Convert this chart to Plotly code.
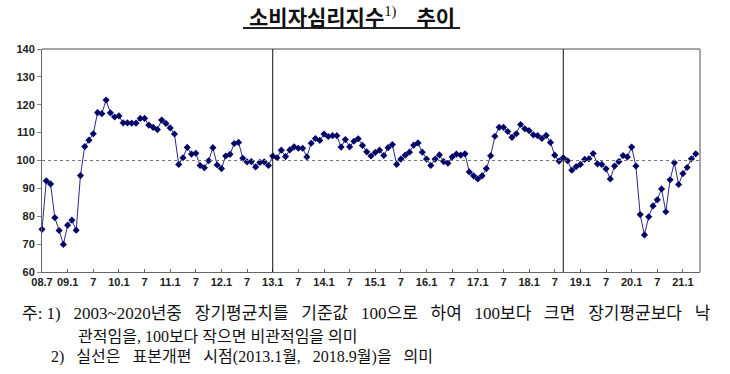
import plotly.graph_objects as go
import pandas as pd

# 소비자심리지수 (CCSI), monthly, 2008.7 ~ 2021.4
start_month = "2008-07"
csi_2008_2012 = [75.3, 92.7, 91.6, 79.5, 74.9, 69.9, 76.8, 78.6, 75.0, 94.6,
                 105.0, 107.3, 109.6, 117.2, 116.8, 121.7, 117.1, 115.6, 116.0, 113.5,
                 113.5, 113.4, 113.4, 115.1, 115.1, 112.7,
                 111.9, 111.1, 114.5, 113.3, 111.7, 109.5, 98.6, 101.0, 104.7, 102.3,
                 102.6, 98.2, 97.4, 99.9, 104.6, 98.4, 97.1, 101.6, 102.2, 106.1,
                 106.5, 100.8, 99.5, 99.6, 97.7, 99.3, 99.5, 98.2]
csi_2013_2018 = [101.6, 101.0, 103.7, 101.4, 103.8, 104.9, 104.4, 104.4, 101.3, 106.2,
                 107.9, 107.2, 109.5, 108.6, 108.9, 108.9, 104.8, 107.5, 104.9, 106.9,
                 107.8, 105.4, 103.1, 101.6,
                 102.9, 103.7, 101.8, 104.6, 105.7, 98.6, 100.5, 101.9, 103.0, 105.5,
                 106.3, 103.0, 100.5, 98.2, 100.5, 102.0, 99.6, 99.0, 101.3, 102.3,
                 101.9, 102.4, 95.9, 94.5, 93.4,
                 94.5, 97.1, 101.7, 108.7, 111.9, 111.9, 110.4, 108.3, 109.6, 112.9,
                 111.4, 110.7, 109.2, 108.9, 107.9, 109.0, 106.5, 101.9, 99.8]
csi_2018_2021 = [101.0, 99.9, 96.5, 97.8, 98.6, 100.4, 100.6,
                 102.5, 98.8, 98.6, 97.0, 93.4, 98.0, 99.6, 101.8, 101.3, 104.8,
                 98.0, 80.6, 73.3, 79.8, 83.7, 85.9, 89.8, 81.6, 93.1, 99.2,
                 91.4, 95.3, 97.5, 100.6, 102.4]

csi = csi_2008_2012 + csi_2013_2018 + csi_2018_2021
months = pd.period_range(start_month, periods=len(csi), freq="M")
xpos = list(range(len(csi)))

tick_labels = ["08.7", "09.1", "7", "10.1", "7", "11.1", "7", "12.1", "7", "13.1",
               "7", "14.1", "7", "15.1", "7", "16.1", "7", "17.1", "7", "18.1",
               "7", "19.1", "7", "20.1", "7", "21.1"]
tick_pos = [i for i, p in enumerate(months) if p.month in (1, 7)]

break_months = ["2013-01", "2018-09"]  # 표본개편 시점
break_pos = [list(months.strftime("%Y-%m")).index(b) for b in break_months]

baseline = 100

fig = go.Figure()
fig.add_trace(go.Scatter(
    x=xpos, y=csi, mode="lines+markers",
    line=dict(color="#2a2a85", width=1),
    marker=dict(symbol="diamond", size=5.5, color="#06066a"),
    cliponaxis=False, showlegend=False, hoverinfo="skip",
))

tickfont = dict(family="Liberation Sans, Arial", size=11, color="#222222", weight="bold")

fig.update_layout(
    width=730, height=374,
    margin=dict(l=42, r=30, t=49, b=102),
    paper_bgcolor="white", plot_bgcolor="white",
    xaxis=dict(range=[0, len(csi)], tickvals=tick_pos[:len(tick_labels)], ticktext=tick_labels,
               ticks="inside", ticklen=3, tickcolor="#666666",
               showline=True, linecolor="#666666", linewidth=1,
               showgrid=False, zeroline=False, tickfont=tickfont),
    yaxis=dict(range=[60, 140], dtick=10, tick0=60,
               ticks="outside", ticklen=4, tickcolor="#888888",
               showline=True, linecolor="#666666", linewidth=1,
               showgrid=False, zeroline=False, tickfont=tickfont),
)

# frame (top / right) and reference lines
fig.add_shape(type="line", xref="paper", yref="paper", x0=0, x1=1, y0=1, y1=1,
              line=dict(color="#a6a6a6", width=2))
fig.add_shape(type="line", xref="paper", yref="paper", x0=1, x1=1, y0=0, y1=1,
              line=dict(color="#a6a6a6", width=2))
fig.add_shape(type="line", xref="paper", yref="y", x0=0, x1=1, y0=baseline, y1=baseline,
              line=dict(color="#777777", width=1, dash="dot"))
for bp in break_pos:
    fig.add_shape(type="line", xref="x", yref="paper", x0=bp, x1=bp, y0=0, y1=1,
                  line=dict(color="#111111", width=1))


# helpers: pixel -> paper coords (plot area spans x 42..700, y 49..272)
def px_x(p):
    return (p - 42) / 658


def px_y(p):
    return (272 - p) / 223


fig.add_annotation(xref="paper", yref="paper", x=px_x(351.5), y=px_y(16),
                   xanchor="center", yanchor="middle", showarrow=False,
                   text="소비자심리지수<sup><span style='font-family:Liberation Serif;font-weight:normal'>1)</span></sup>\u2002  추이",
                   font=dict(family="Noto Sans CJK KR", size=21, color="#111111",
                             weight="bold"))
fig.add_shape(type="line", xref="paper", yref="paper",
              x0=px_x(243), x1=px_x(460), y0=px_y(28), y1=px_y(28),
              line=dict(color="#222222", width=2))

# footnotes
gap = "\u2002 "
notes = [
    (gap.join(["주: 1)", "2003~2020년중", "장기평균치를", "기준값", "100으로", "하여",
               "100보다", "크면", "장기평균보다", "낙"]), 20, 313, 17),
    ("관적임을, 100보다 작으면 비관적임을 의미", 76, 336, 16),
    (gap.join(["2)", "실선은", "표본개편", "시점(2013.1월,", "2018.9월)을", "의미"]), 49, 357, 16),
]
for txt, px, py, fs in notes:
    fig.add_annotation(xref="paper", yref="paper",
                       x=px_x(px), y=px_y(py),
                       xanchor="left", yanchor="middle", showarrow=False,
                       text=txt,
                       font=dict(family="Liberation Serif, Noto Sans CJK KR", size=fs,
                                 color="#111111"))

fig.write_html("out.html", config={"displayModeBar": False},
               post_script="document.body.style.margin='0';")
